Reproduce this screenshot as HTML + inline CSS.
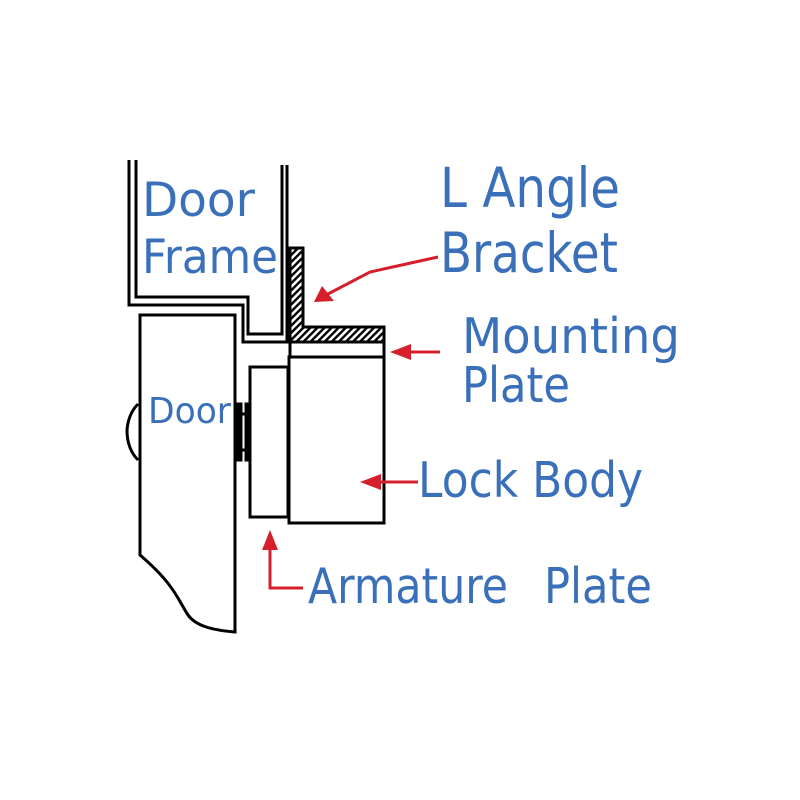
<!DOCTYPE html>
<html><head><style>html,body{margin:0;padding:0;background:#fff}svg{display:block}</style></head>
<body>
<svg width="800" height="800" viewBox="0 0 800 800" xmlns="http://www.w3.org/2000/svg">
<defs>
<pattern id="h" width="5" height="5" patternUnits="userSpaceOnUse" patternTransform="rotate(45)">
<rect width="5" height="5" fill="#fff"/><rect width="2.4" height="5" fill="#000"/></pattern>
</defs>
<g fill="none" stroke="#000" stroke-width="3">
<path d="M129 160 V305 H243 V342 H287 V165"/>
<path d="M136 160 V297 H248 V334 H282 V165"/>
<path d="M290 248 H303 V327 H384 V342 H290 Z" fill="url(#h)"/>
<rect x="290" y="342" width="94" height="15"/>
<rect x="289" y="357" width="95" height="166"/>
<rect x="250" y="367" width="38" height="150"/>
<path d="M140 315 H235 V632 C210 630 195 625 188 615 C178 600 175 585 140 555 Z"/>
<path d="M138 404 C132 410 128 418 127 430 C127 442 130 452 138 460"/>
<rect x="238" y="404" width="3" height="56"/>
<rect x="246" y="404" width="3" height="56"/>
<line x1="241" y1="414" x2="246" y2="414"/><line x1="241" y1="450" x2="246" y2="450"/>
</g>
<g stroke="#d61f2c" stroke-width="3" fill="none">
<path d="M438 257 L370 272 L326 295"/>
<line x1="440" y1="352" x2="400" y2="352"/>
<line x1="418" y1="482" x2="372" y2="482"/>
<path d="M270 542 V588 H303"/>
</g>
<g fill="#d61f2c">
<polygon points="314,302 322,286 334,301"/>
<polygon points="390,352 411,344 411,360"/>
<polygon points="360,482 381,474 381,490"/>
<polygon points="270,530 262,550 278,550"/>
</g>
<g fill="#3a6fb9" font-family="'DejaVu Sans','Liberation Sans',sans-serif">
<text x="142" y="216" font-size="47" textLength="113" lengthAdjust="spacingAndGlyphs">Door</text>
<text x="142" y="273" font-size="47" textLength="136" lengthAdjust="spacingAndGlyphs">Frame</text>
<text x="440" y="207" font-size="55" textLength="180" lengthAdjust="spacingAndGlyphs">L Angle</text>
<text x="440" y="272" font-size="55" textLength="178" lengthAdjust="spacingAndGlyphs">Bracket</text>
<text x="462" y="353" font-size="49" textLength="218" lengthAdjust="spacingAndGlyphs">Mounting</text>
<text x="462" y="402" font-size="49" textLength="108" lengthAdjust="spacingAndGlyphs">Plate</text>
<text x="418" y="497" font-size="49" textLength="225" lengthAdjust="spacingAndGlyphs">Lock Body</text>
<text x="308" y="603" font-size="49" textLength="200" lengthAdjust="spacingAndGlyphs">Armature</text>
<text x="544" y="603" font-size="49" textLength="108" lengthAdjust="spacingAndGlyphs">Plate</text>
<text x="148" y="423" font-size="36" textLength="83" lengthAdjust="spacingAndGlyphs">Door</text>
</g>
</svg>
</body></html>
